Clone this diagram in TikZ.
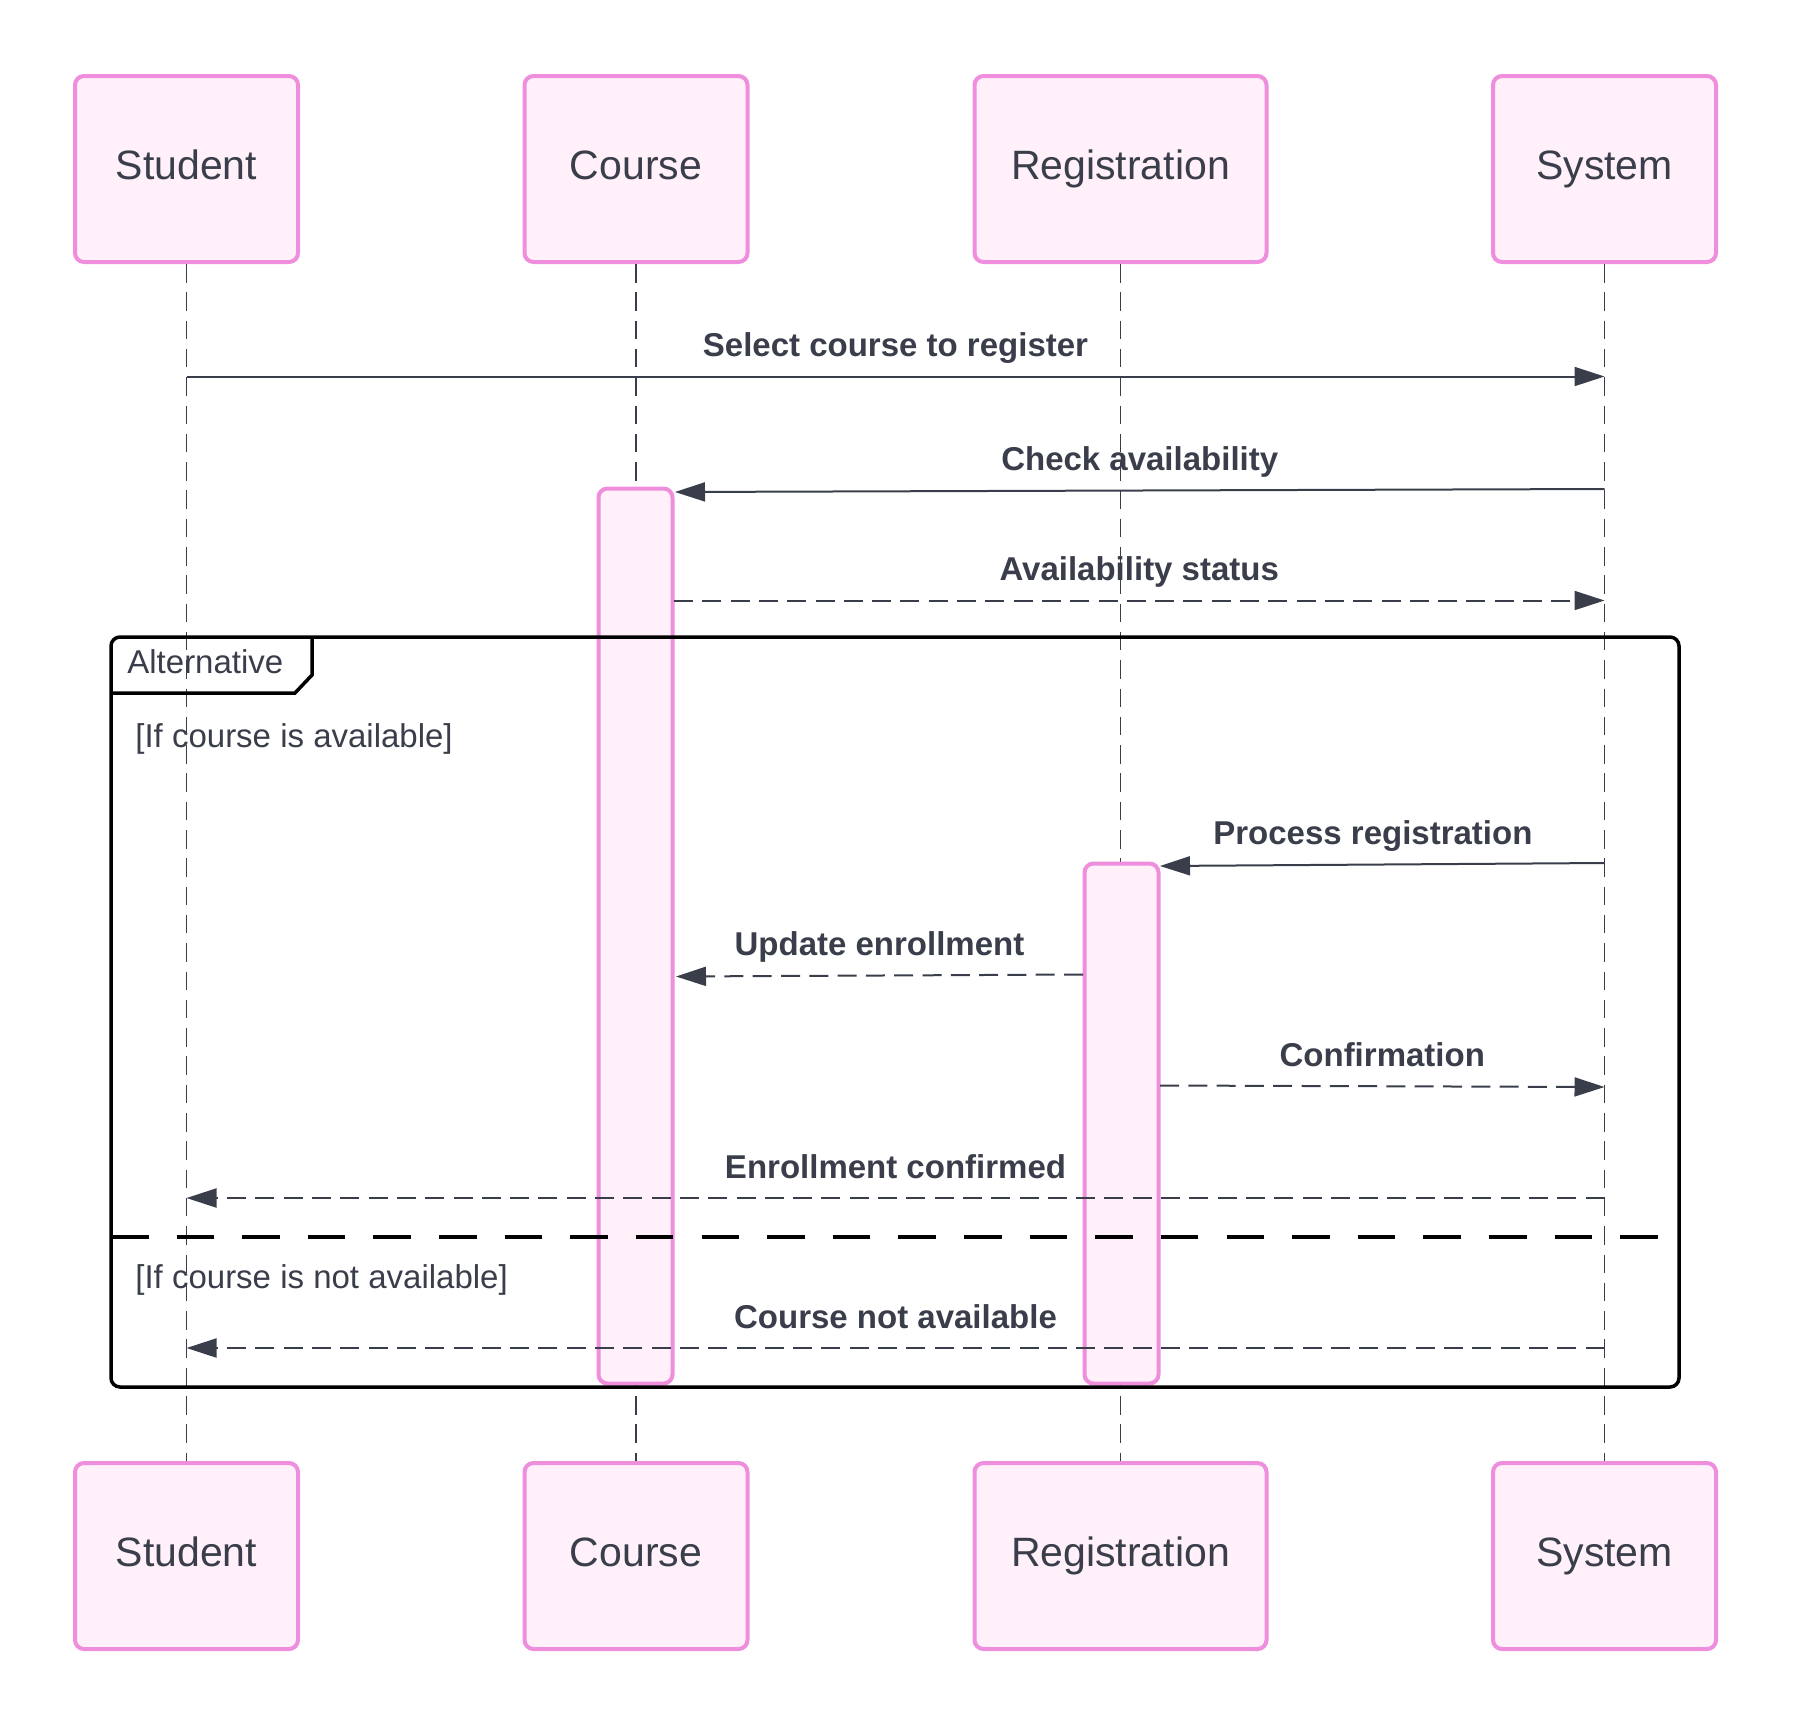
\documentclass[tikz,border=0pt]{standalone}
\usepackage{fontspec}
\setmainfont{Liberation Sans}
\usetikzlibrary{arrows.meta}
\definecolor{ink}{HTML}{393E4A}
\definecolor{pinkline}{HTML}{EE8EDC}
\definecolor{pinkfill}{HTML}{FFF0FA}
\begin{document}
\begin{tikzpicture}[x=0.5pt,y=-0.5pt,
  actor/.style={draw=pinkline, fill=pinkfill, line width=2pt, rounded corners=4.5pt,
    minimum width=111.5pt, minimum height=93pt, inner sep=0pt, text=ink,
    font=\fontsize{20.5}{24}\selectfont, text height=14.7pt, text depth=4.2pt},
  wideactor/.style={actor, minimum width=146pt},
  actbar/.style={draw=pinkline, fill=pinkfill, line width=2pt, rounded corners=4.5pt,
    minimum width=37pt, inner sep=0pt},
  lifeline/.style={draw=ink, line width=0.85pt, dash pattern=on 9.25pt off 4.9pt},
  msg/.style={draw=ink, line width=1pt, -{Triangle[length=15pt,width=9.5pt]}},
  reply/.style={msg, dash pattern=on 9.5pt off 4.65pt},
  lbl/.style={text=ink, font=\bfseries\fontsize{16.5}{20}\selectfont, inner sep=0pt, anchor=base},
  guard/.style={text=ink, font=\fontsize{16.5}{20}\selectfont, inner sep=0pt, anchor=base west},
  framebox/.style={draw=black, line width=1.75pt, rounded corners=4.5pt, inner sep=0pt,
    minimum width=784pt, minimum height=375pt}
]
\useasboundingbox (0,0) rectangle (1794,1725);

% actors
\node[actor] (stuT) at (186.5,169) {Student};
\node[actor] (couT) at (636,169) {Course};
\node[wideactor] (regT) at (1120.5,169) {Registration};
\node[actor] (sysT) at (1604.5,169) {System};
\node[actor] (stuB) at (186.5,1556) {Student};
\node[actor] (couB) at (636,1556) {Course};
\node[wideactor] (regB) at (1120.5,1556) {Registration};
\node[actor] (sysB) at (1604.5,1556) {System};

% lifelines
\draw[lifeline] (stuT.south) -- (stuB.north);
\draw[lifeline] (couT.south) -- (couB.north);
\draw[lifeline] (regT.south) -- (regB.north);
\draw[lifeline] (sysT.south) -- (sysB.north);

% activations
\node[actbar, minimum height=447.5pt] (couA) at (635.5,936) {};
\node[actbar, minimum height=260pt] (regA) at (1121.5,1123.5) {};

% alternative frame
\node[framebox] (alt) at (895,1012) {};
\draw[black, line width=1.75pt] (111,693) -- (295,693) -- (312,675) -- (312,637);
\node[guard] (altlbl) at (127,673) {Alternative};
\node[guard] (g1) at (135,747) {[If course is available]};
\draw[black, line width=2pt, dash pattern=on 18.75pt off 14.06pt] (111,1237) -- (1659,1237);
\node[guard] (g2) at (135,1288) {[If course is not available]};

% message end points
\coordinate (s1) at (186.5,376.5);  \coordinate (e1) at (1604.5,376.5);
\coordinate (s2) at (1604.5,489);   \coordinate (e2) at (675,492);
\coordinate (s3) at (674,600.5);    \coordinate (e3) at (1604.5,600.5);
\coordinate (s4) at (1604.5,863);   \coordinate (e4) at (1160,866);
\coordinate (s5) at (1083,974.5);   \coordinate (e5) at (676,976.5);
\coordinate (s6) at (1160,1085.5);  \coordinate (e6) at (1604.5,1087);
\coordinate (s7) at (1604.5,1198);  \coordinate (e7) at (186.5,1198);
\coordinate (s8) at (1604.5,1348);  \coordinate (e8) at (186.5,1348);

% messages
\draw[msg] (s1) -- node[lbl, midway, yshift=10pt] {Select course to register} (e1);
\draw[msg] (s2) -- node[lbl, midway, yshift=10pt] {Check availability} (e2);
\draw[reply] (s3) -- node[lbl, midway, yshift=10pt] {Availability status} (e3);
\draw[msg] (s4) -- node[lbl, pos=0.521, yshift=10pt] {Process registration} (e4);
\draw[reply] (s5) -- node[lbl, midway, yshift=10pt] {Update enrollment} (e5);
\draw[reply] (s6) -- node[lbl, midway, yshift=10pt] {Confirmation} (e6);
\draw[reply] (s7) -- node[lbl, midway, yshift=10pt] {Enrollment confirmed} (e7);
\draw[reply] (s8) -- node[lbl, midway, yshift=10pt] {Course not available} (e8);
\end{tikzpicture}
\end{document}
